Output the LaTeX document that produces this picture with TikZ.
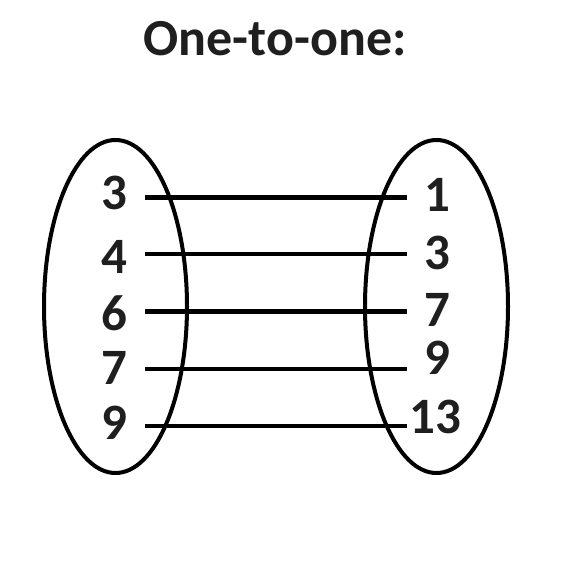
\documentclass[tikz,border=0pt]{standalone}
\usepackage{fontspec}
\setmainfont{Carlito}
\usetikzlibrary{positioning}

\begin{document}
\begin{tikzpicture}[x=1pt,y=-1pt,
  num/.style={font=\fontsize{51}{61}\selectfont\bfseries,text=black!88,inner sep=0pt},
  setline/.style={draw,line width=4pt},
  link/.style={line width=4.5pt}]
\useasboundingbox (0,0) rectangle (573,570);

% Title
\node[num,font=\fontsize{52}{62}\selectfont\bfseries] (title) at (275,39) {One-to-one:};

% Left set
\draw[setline] (115.5,306.5) ellipse (71.5pt and 166.5pt);
\foreach \n/\y [count=\i] in {3/193,4/257,6/313,7/368,9/423}
  \node[num] (l\i) at (114,\y) {\n};

% Right set
\draw[setline] (436.5,306.5) ellipse (71.5pt and 166.5pt);
\foreach \n/\x/\y [count=\i] in {1/437/195,3/437/253,7/437/310,9/437/358,13/435/417}
  \node[num] (r\i) at (\x,\y) {\n};

% Pairs
\foreach \y [count=\i] in {197.5,254,311.5,369,426}{
  \coordinate (a\i) at (145,\y);
  \coordinate (b\i) at (407,\y);
  \draw[link] (a\i) -- (b\i);
}
\end{tikzpicture}
\end{document}
